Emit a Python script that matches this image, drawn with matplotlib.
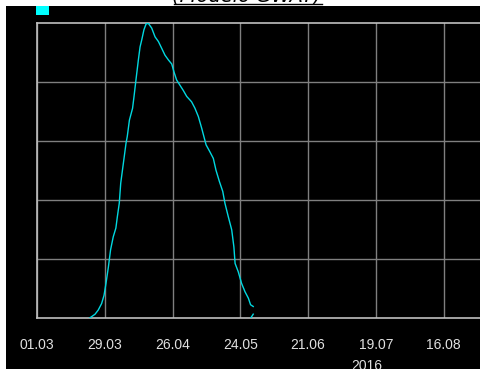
import matplotlib
matplotlib.use("Agg")
import matplotlib.pyplot as plt
from matplotlib.patches import Rectangle
from matplotlib.lines import Line2D

# days counted from 01.03.2016
days = [21.5, 23.9, 25.2, 26.6, 27.6, 28.4, 29.4, 30.3, 31.4, 32.5, 33.1, 33.9,
        34.5, 35.6, 36.7, 37.2, 38.1, 39.4, 40.0, 40.8, 41.8, 42.5, 43.2, 44.1,
        45.0, 45.9, 47.3, 48.7, 50.1, 51.4, 52.8, 54.2, 55.6, 56.5, 57.6, 59.0,
        60.4, 61.8, 63.8, 65.2, 66.6, 68.0, 68.9, 69.8, 71.4, 72.8, 73.9, 75.3,
        76.7, 77.6, 79.0, 80.4, 81.3, 81.8, 83.1, 84.5, 85.9, 87.3, 88.2, 89.3]
values = [0.00, 0.07, 0.14, 0.25, 0.39, 0.59, 0.87, 1.16, 1.38, 1.53, 1.72, 1.95,
          2.29, 2.63, 2.97, 3.08, 3.36, 3.56, 3.76, 4.04, 4.38, 4.60, 4.72, 4.89,
          4.99, 5.00, 4.92, 4.77, 4.69, 4.58, 4.46, 4.38, 4.31, 4.18, 4.04, 3.95,
          3.86, 3.76, 3.67, 3.56, 3.42, 3.22, 3.08, 2.94, 2.82, 2.71, 2.51, 2.32,
          2.15, 1.95, 1.72, 1.50, 1.21, 0.93, 0.79, 0.59, 0.45, 0.34, 0.23, 0.20]
tail_days = [88.2, 89.3]
tail_values = [0.00, 0.07]

tick_days = [0, 28, 56, 84, 112, 140, 168]
tick_labels = ["01.03", "29.03", "26.04", "24.05", "21.06", "19.07", "16.08"]

W, H = 481, 369
fig = plt.figure(figsize=(W / 100, H / 100), dpi=100, facecolor="white")

# black panel behind the chart
fig.patches.append(Rectangle((6 / W, 0), 1, 1 - 6 / H, transform=fig.transFigure,
                             facecolor="black", edgecolor="none", zorder=0))

ax = fig.add_axes([37.3 / W, 1 - 318.3 / H, 1 - 37.3 / W, (318.3 - 23.3) / H])
ax.set_zorder(2)
ax.set_facecolor("black")
ax.set_xlim(0, (W - 37.3) / 2.418)
ax.set_ylim(0, 5)

for d in tick_days:
    ax.axvline(d, color="#7f7f7f", lw=1, zorder=1)
for v in range(1, 5):
    ax.axhline(v, color="#7f7f7f", lw=1, zorder=1)

ax.plot(days, values, color="#00d8e0", lw=1, zorder=3)
ax.plot(tail_days, tail_values, color="#00d8e0", lw=1, zorder=3)

for side in ["left", "bottom", "top"]:
    ax.spines[side].set_color("#c0c0c0")
    ax.spines[side].set_linewidth(1.2)
ax.spines["right"].set_visible(False)

ax.set_xticks(tick_days)
ax.set_xticklabels(tick_labels, color="#e0e0e0", fontsize=10,
                   family="Liberation Sans")
ax.tick_params(axis="x", length=0, pad=14)
ax.set_yticks([])

fig.text(367 / W, 1 - 366 / H, "2016", color="#e0e0e0", fontsize=10,
         family="Liberation Sans", ha="center", va="center", zorder=3)

# legend marker
fig.patches.append(Rectangle((36 / W, 1 - 14.5 / H), 12.5 / W, 8.5 / H,
                             transform=fig.transFigure, facecolor="#00ffff",
                             edgecolor="none", zorder=3))

# title, mostly cut off at the top edge
fig.text(247 / W, 1 - 1 / H, "(Modelo GWAT)", color="black", fontsize=14,
         style="italic", ha="center", va="baseline", zorder=3)
fig.lines.append(Line2D([174 / W, 322 / W], [1 - 4 / H, 1 - 4 / H],
                        transform=fig.transFigure, color="black", lw=1, zorder=3))

fig.savefig("out.png", dpi=100, facecolor="white")
